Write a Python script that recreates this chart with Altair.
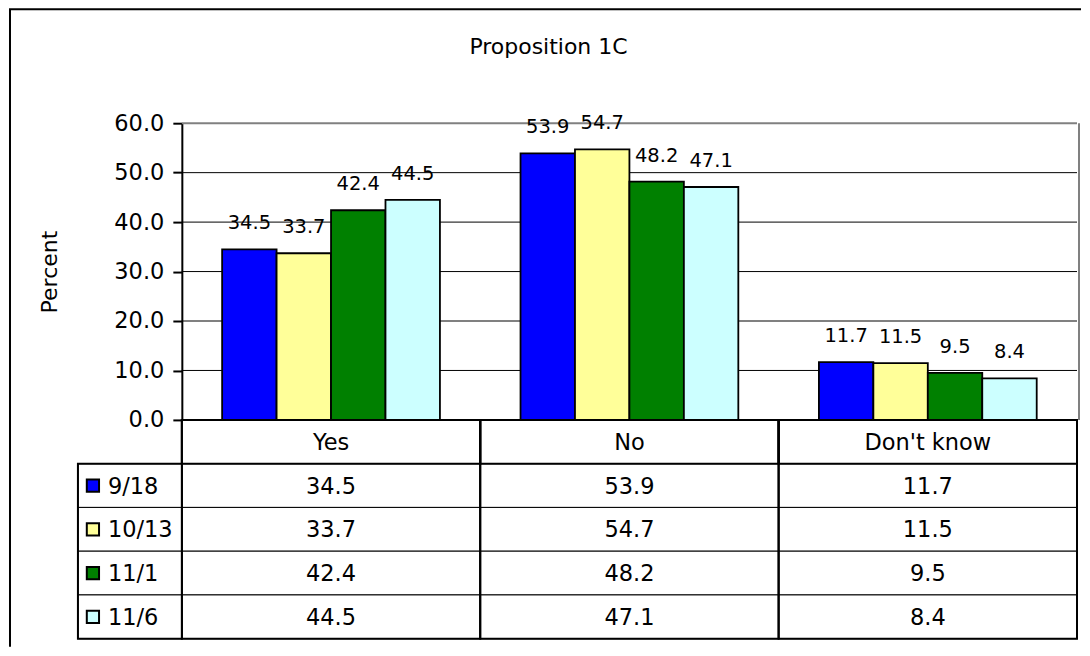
import altair as alt
import pandas as pd

categories = ["Yes", "No", "Don't know"]
series = ["9/18", "10/13", "11/1", "11/6"]
values = {
    "9/18": [34.5, 53.9, 11.7],
    "10/13": [33.7, 54.7, 11.5],
    "11/1": [42.4, 48.2, 9.5],
    "11/6": [44.5, 47.1, 8.4],
}
colors = ["#0000FF", "#FFFF99", "#008000", "#CCFFFF"]
y_ticks = [0, 10, 20, 30, 40, 50, 60]
grid_black = [10, 20, 30, 40, 50]
grid_top = [60]
title_text = "Proposition 1C"
y_title = "Percent"

FONT = "DejaVu Sans"
FS_TABLE = 22.5
FS_TICK = 22.5
FS_YTITLE = 22
FS_BAR = 19.5
FS_TITLE = 22

# ---- data frames built from the arrays ----
bar_rows = []
for s in series:
    for c, v in zip(categories, values[s]):
        bar_rows.append({"category": c, "series": s, "value": v})
bars_df = pd.DataFrame(bar_rows)

cell_rows = []
for c_i, c in enumerate(categories):
    cell_rows.append({"category": c, "top": 0, "bottom": 1, "mid": 0.5, "label": c, "header": 1})
    for r_i, s in enumerate(series):
        cell_rows.append({"category": c, "top": r_i + 1, "bottom": r_i + 2, "mid": r_i + 1.5,
                          "label": f"{values[s][c_i]:.1f}", "header": 0})
cells_df = pd.DataFrame(cell_rows)

legend_df = pd.DataFrame([
    {"series": s, "top": i + 1, "bottom": i + 2, "mid": i + 1.5} for i, s in enumerate(series)
])
grid_df = pd.DataFrame({"v": grid_black})
gridtop_df = pd.DataFrame({"v": grid_top})
border_df = pd.DataFrame({"y0": [0], "y1": [60]})
one_df = pd.DataFrame({"t": [title_text]})

# ---- scales ----
x_scale = alt.Scale(domain=categories, paddingInner=0, paddingOuter=0)
y_scale = alt.Scale(domain=[0, 60], range=[297, 0], nice=False, zero=True)
ty_scale = alt.Scale(domain=[0, 5], range=[297, 516], nice=False, zero=False)
off_scale = alt.Scale(domain=series, paddingInner=0, paddingOuter=0.74)
color_scale = alt.Scale(domain=series, range=colors)

y_axis = alt.Axis(
    values=y_ticks, format=".1f", title=y_title, grid=False,
    tickSize=9, tickWidth=2, tickColor="black",
    domainWidth=2, domainColor="black",
    labelFont=FONT, labelFontSize=FS_TICK, labelColor="black", labelPadding=9,
    titleFont=FONT, titleFontSize=FS_YTITLE, titleFontWeight="normal", titleColor="black",
    titlePadding=52,
)

X = alt.X("category:N", scale=x_scale, axis=None)

grid = alt.Chart(grid_df).mark_rule(color="black", strokeWidth=1).encode(
    y=alt.Y("v:Q", scale=y_scale, axis=y_axis)
)
gridtop = alt.Chart(gridtop_df).mark_rule(color="#808080", strokeWidth=2).encode(
    y=alt.Y("v:Q", scale=y_scale, axis=y_axis)
)
right_border = alt.Chart(border_df).mark_rule(color="#808080", strokeWidth=2).encode(
    x=alt.value(898),
    y=alt.Y("y0:Q", scale=y_scale, axis=y_axis),
    y2="y1:Q",
)
bars = alt.Chart(bars_df).mark_bar(stroke="black", strokeWidth=1.8).encode(
    x=X,
    xOffset=alt.XOffset("series:N", scale=off_scale),
    y=alt.Y("value:Q", scale=y_scale, axis=y_axis),
    color=alt.Color("series:N", scale=color_scale, legend=None),
)
labels = alt.Chart(bars_df).mark_text(
    font=FONT, fontSize=FS_BAR, color="black", baseline="middle", dy=-26
).encode(
    x=X,
    xOffset=alt.XOffset("series:N", scale=off_scale),
    y=alt.Y("value:Q", scale=y_scale, axis=y_axis),
    text=alt.Text("value:Q", format=".1f"),
)
layer_a = alt.layer(grid, gridtop, right_border, bars, labels)

TY = lambda f: alt.Y(f, scale=ty_scale, axis=None)

cells = alt.Chart(cells_df).mark_rect(fill="white", stroke="black", strokeWidth=1).encode(
    x=X, y=TY("top:Q"), y2="bottom:Q"
)
header_cells = alt.Chart(cells_df).transform_filter("datum.header == 1").mark_rect(
    filled=False, stroke="black", strokeWidth=2
).encode(x=X, y=TY("top:Q"), y2="bottom:Q")
columns = alt.Chart(cells_df).mark_rect(filled=False, stroke="black", strokeWidth=2).encode(
    x=X, y=TY("min(top):Q"), y2="max(bottom):Q"
)
cell_text = alt.Chart(cells_df).mark_text(
    font=FONT, fontSize=FS_TABLE, color="black", baseline="middle", dy=1
).encode(x=X, y=TY("mid:Q"), text="label:N")
leg_cells = alt.Chart(legend_df).mark_rect(fill="white", stroke="black", strokeWidth=1).encode(
    x=alt.value(-104), x2=alt.value(0), y=TY("top:Q"), y2="bottom:Q"
)
leg_box = alt.Chart(legend_df).mark_rect(filled=False, stroke="black", strokeWidth=2).encode(
    x=alt.value(-104), x2=alt.value(0), y=TY("min(top):Q"), y2="max(bottom):Q"
)
leg_sq = alt.Chart(legend_df).mark_point(
    shape="square", filled=True, size=150, stroke="black", strokeWidth=2, opacity=1
).encode(
    x=alt.value(-89), y=TY("mid:Q"),
    color=alt.Color("series:N", scale=color_scale, legend=None),
)
leg_text = alt.Chart(legend_df).mark_text(
    font=FONT, fontSize=FS_TABLE, color="black", align="left", baseline="middle", dy=1
).encode(x=alt.value(-74), y=TY("mid:Q"), text="series:N")

title = alt.Chart(one_df).mark_text(font=FONT, fontSize=FS_TITLE, color="black", baseline="middle").encode(
    x=alt.value(367), y=alt.value(-76), text="t:N"
)
left_edge = alt.Chart(one_df).mark_rule(color="black", strokeWidth=2).encode(
    x=alt.value(-172), y=alt.value(-114), y2=alt.value(524)
)
top_edge = alt.Chart(one_df).mark_rule(color="black", strokeWidth=2).encode(
    x=alt.value(-173), x2=alt.value(900), y=alt.value(-114)
)

layer_b = alt.layer(cells, header_cells, columns, cell_text, leg_cells, leg_box, leg_sq, leg_text,
                    title, left_edge, top_edge)

chart = alt.layer(layer_a, layer_b).resolve_scale(y="independent").properties(
    width=896, height=516, padding=0, background="white"
).configure_view(stroke="transparent")

chart.save("out.html", embed_options={"renderer": "svg", "actions": False})
